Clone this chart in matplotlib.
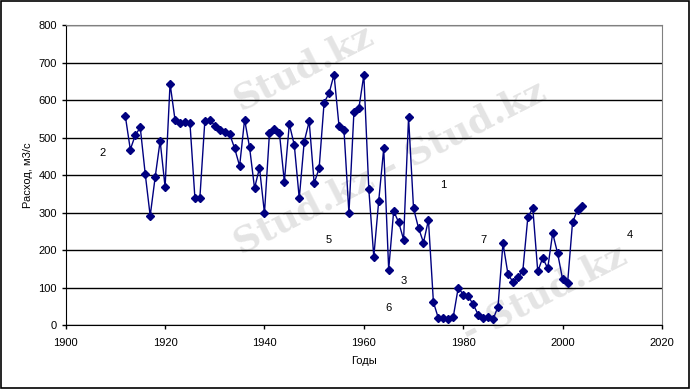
import matplotlib
matplotlib.use("Agg")
import matplotlib.pyplot as plt
from matplotlib.patches import Rectangle

years = list(range(1912, 2005))
flow = [557, 468, 506, 527, 403, 291, 394, 491, 368, 644,
        547, 539, 541, 539, 339, 339, 544, 548, 531, 521,
        515, 509, 471, 424, 548, 474, 365, 419, 298, 511,
        522, 513, 382, 536, 480, 338, 489, 543, 378, 418,
        593, 618, 668, 531, 520, 298, 567, 578, 667, 362,
        182, 332, 471, 148, 304, 274, 228, 554, 311, 259,
        220, 280, 61, 18, 18, 17, 22, 100, 81, 77,
        55, 28, 20, 21, 15, 49, 218, 136, 115, 127,
        145, 287, 312, 143, 179, 151, 245, 191, 122, 111,
        274, 307, 318]

zone_labels = ["1", "2", "3", "4", "5", "6", "7"]
zone_x = [1976, 1907.5, 1968, 2013.5, 1953, 1965, 1984]
zone_y = [373, 459, 117, 240, 227, 45, 227]

plt.rcParams['font.family'] = ['Liberation Sans', 'DejaVu Sans']

fig = plt.figure(figsize=(6.91, 3.89), dpi=100)
ax = fig.add_axes([0.0951, 0.1645, 0.8629, 0.7712])
ax.set_zorder(2)
ax.patch.set_alpha(0)

# faint watermark behind the chart
wm = dict(color='#e4e4e4', fontsize=26, fontweight='bold', family='DejaVu Serif',
          rotation=27, zorder=0, ha='left', va='bottom')
fig.text(0.33, 0.70, "Stud.kz", **wm)
fig.text(0.33, 0.33, "Stud.kz - Stud.kz", **wm)
fig.text(0.66, 0.10, "- Stud.kz", **wm)

ax.plot(years, flow, color='#000080', lw=1, marker='D', ms=4.5,
        markerfacecolor='#000080', markeredgecolor='#000080', zorder=3)

for lab, x, y in zip(zone_labels, zone_x, zone_y):
    ax.text(x, y, lab, fontsize=8, ha='center', va='center')

ax.set_xlim(1900, 2020)
ax.set_ylim(0, 800)
ax.set_xticks(range(1900, 2021, 20))
ax.set_yticks(range(0, 801, 100))
ax.yaxis.grid(True, color='black', lw=1)
ax.set_axisbelow(True)
ax.tick_params(labelsize=8, length=3, width=1, color='black')
ax.tick_params(axis='x', pad=6)

for s in ['top', 'right']:
    ax.spines[s].set_color('#808080')
for s in ['left', 'bottom']:
    ax.spines[s].set_color('black')

ax.set_xlabel("Годы", fontsize=8, labelpad=6)
ax.set_ylabel("Расход, м3/с", fontsize=8, labelpad=4)

fig.patches.append(Rectangle((0.001, 0.003), 0.996, 0.994, transform=fig.transFigure,
                             fill=False, edgecolor='black', lw=1.2))

plt.savefig("out.png", dpi=100)
